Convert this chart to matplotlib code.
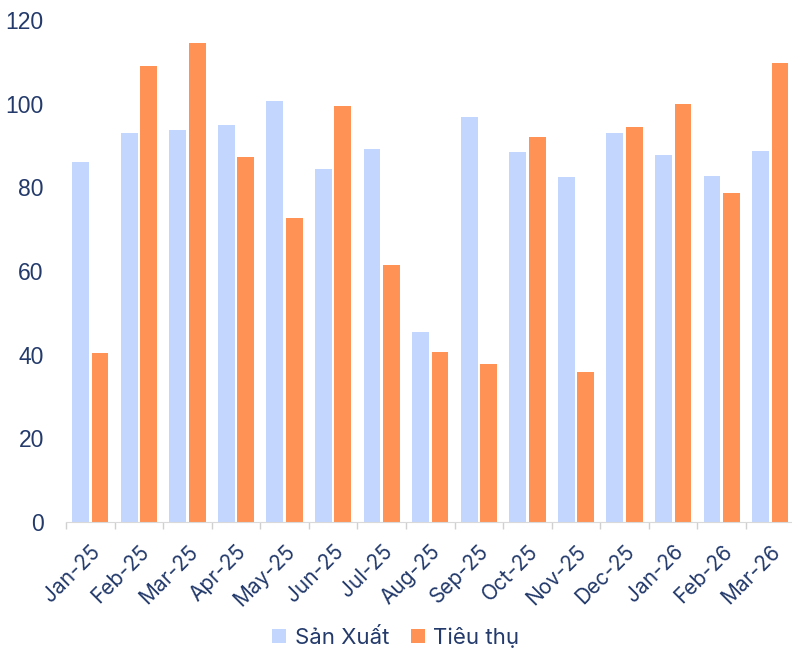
import matplotlib
matplotlib.use("Agg")
import matplotlib.pyplot as plt
import numpy as np

months = ["Jan-25", "Feb-25", "Mar-25", "Apr-25", "May-25", "Jun-25", "Jul-25", "Aug-25",
          "Sep-25", "Oct-25", "Nov-25", "Dec-25", "Jan-26", "Feb-26", "Mar-26"]
san_xuat = [86.0, 93.1, 93.8, 95.0, 100.7, 84.4, 89.2, 45.5, 96.9, 88.5, 82.5, 93.1, 87.8, 82.8, 88.8]
tieu_thu = [40.4, 109.1, 114.4, 87.3, 72.7, 99.5, 61.5, 40.7, 37.8, 92.1, 35.9, 94.5, 100.0, 78.7, 109.8]
yticks = [0, 20, 40, 60, 80, 100, 120]

navy = "#233a6b"
c_sx = "#c3d6fd"
c_tt = "#ff9254"

fig = plt.figure(figsize=(7.92, 6.51), dpi=100)
ax = fig.add_axes([66/792, (651-522)/651, 728.6/792, (522-20)/651])

x = np.arange(len(months))
w = 0.345
ax.bar(x - 0.2, san_xuat, w, color=c_sx, label="Sản Xuất")
ax.bar(x + 0.2, tieu_thu, w, color=c_tt, label="Tiêu thụ")

ax.set_xlim(-0.5, len(months) - 0.5)
ax.set_ylim(0, 120)
ax.set_yticks(yticks)
ax.set_yticklabels([str(v) for v in yticks], family="Liberation Sans", fontsize=16.5, color=navy)
ax.tick_params(axis="y", length=0, pad=16)

ax.set_xticks(np.arange(-0.5, len(months)), minor=False)
ax.set_xticklabels([])
ax.tick_params(axis="x", which="major", length=5, color="#d0d0d0", width=1)
ax.set_xticks(x, minor=True)
ax.set_xticklabels(months, minor=True, rotation=45, ha="right", va="top",
                   rotation_mode="anchor", family="Inter", fontsize=15, color=navy)
ax.tick_params(axis="x", which="minor", length=0, pad=14)

for s in ["top", "right", "left"]:
    ax.spines[s].set_visible(False)
ax.spines["bottom"].set_color("#d9d9d9")

leg = fig.legend(loc="center", bbox_to_anchor=(0.5, (651-637)/651), ncol=2, frameon=False,
                 handlelength=0.6, handleheight=0.6, handletextpad=0.4, columnspacing=1.0,
                 prop={"family": "Inter", "size": 16})
for t in leg.get_texts():
    t.set_color(navy)

fig.savefig("out.png", dpi=100)
